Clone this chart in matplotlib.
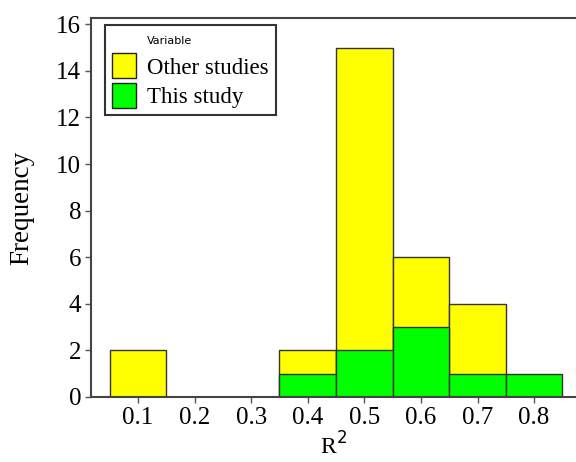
import matplotlib
matplotlib.use("Agg")
import matplotlib.pyplot as plt
from matplotlib.patches import Patch
from matplotlib.offsetbox import HPacker, VPacker, DrawingArea

# bin centres of R^2 and counts per group
r2_bins = [0.1, 0.2, 0.3, 0.4, 0.5, 0.6, 0.7, 0.8]
other_studies = [2, 0, 0, 2, 15, 6, 4, 0]
this_study = [0, 0, 0, 1, 2, 3, 1, 1]
y_ticks = [0, 2, 4, 6, 8, 10, 12, 14, 16]

plt.rcParams["font.family"] = ["Liberation Serif", "DejaVu Serif"]

fig = plt.figure(figsize=(5.76, 4.62), dpi=100)
ax = fig.add_axes([0.158, 0.1407, 0.842, 0.82])

ax.bar(r2_bins, other_studies, width=0.1, color="#ffff00",
       edgecolor="#333333", linewidth=1.0)
ax.bar(r2_bins, this_study, width=0.1, color="#00ff00",
       edgecolor="#333333", linewidth=1.0)

ax.set_xlim(0.017, 0.874)
ax.set_ylim(0, 16.26)
ax.set_xticks(r2_bins)
ax.set_xticklabels([f"{v:.1f}" for v in r2_bins])
ax.set_yticks(y_ticks)
ax.tick_params(labelsize=18, length=4, width=1, color="#555555", pad=3)
ax.spines["right"].set_visible(False)
for s in ["left", "top", "bottom"]:
    ax.spines[s].set_color("#444444")
    ax.spines[s].set_linewidth(1.5)

ax.set_xlabel("R$^2$", fontsize=17, labelpad=3)
ax.set_ylabel("Frequency", fontsize=19.5, labelpad=16)

handles = [Patch(facecolor="#ffff00", edgecolor="#222222", label="Other studies"),
           Patch(facecolor="#00ff00", edgecolor="#222222", label="This study")]
leg = ax.legend(handles=handles, loc="upper left", bbox_to_anchor=(0.029, 0.981),
                borderaxespad=0, fontsize=16.5, title="Variable", fancybox=False,
                framealpha=1, edgecolor="#333333", handlelength=1.05,
                handleheight=1.3, handletextpad=0.5, borderpad=0.3,
                labelspacing=0.2, alignment="left")
leg.get_title().set_fontfamily("DejaVu Sans")
leg.get_title().set_fontsize(8)
leg.get_frame().set_linewidth(1.5)

# indent the title so it lines up with the entry texts, a bit lower
title_box = leg._legend_box._children[0]
leg._legend_box._children[0] = VPacker(
    children=[DrawingArea(1, 3),
              HPacker(children=[DrawingArea(25, 1), title_box], pad=0, sep=0)],
    pad=0, sep=0, align="left")
leg._legend_box.sep = 5

fig.savefig("out.png", dpi=100)
